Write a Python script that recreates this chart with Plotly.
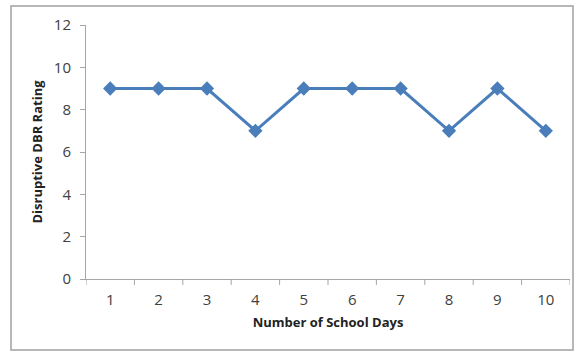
import plotly.graph_objects as go

days = [1, 2, 3, 4, 5, 6, 7, 8, 9, 10]
ratings = [9, 9, 9, 7, 9, 9, 9, 7, 9, 7]
y_ticks = [0, 2, 4, 6, 8, 10, 12]

W, H = 574, 352
L, R, T, B = 86, 4, 25, 73
pw, ph = W - L - R, H - T - B

fig = go.Figure(go.Scatter(
    x=days, y=ratings, mode="lines+markers",
    line=dict(color="#4a7ebb", width=3),
    marker=dict(symbol="diamond", size=11, color="#4a7ebb"),
    showlegend=False,
))

font = dict(family="Open Sans, Liberation Sans, sans-serif", size=15, color="#404040")

fig.update_layout(
    width=W, height=H,
    margin=dict(l=L, r=R, t=T, b=B),
    paper_bgcolor="white", plot_bgcolor="white",
    font=font,
    xaxis=dict(
        range=[0.5, 10.5], tickmode="array", tickvals=days,
        ticktext=[str(d) for d in days],
        showgrid=False, zeroline=False, showline=True,
        linecolor="#a6a6a6", linewidth=1, ticks="",
        ticklabelstandoff=7,
        title=dict(text="<b>Number of School Days</b>", font=dict(size=13, color="#222"), standoff=9),
        fixedrange=True,
    ),
    yaxis=dict(
        range=[0, 12], tickmode="array", tickvals=y_ticks,
        showgrid=False, zeroline=False, showline=True,
        linecolor="#a6a6a6", linewidth=1, ticks="outside",
        ticklen=5, tickcolor="#a6a6a6", ticklabelstandoff=6,
        title=dict(text="<b>Disruptive DBR Rating</b>", font=dict(size=13, color="#222"), standoff=8),
        fixedrange=True,
    ),
)

# category separator tick marks on the x axis
shapes = []
for k in range(11):
    xv = 0.5 + k
    shapes.append(dict(type="line", xref="x", yref="paper", x0=xv, x1=xv,
                       y0=-6 / ph, y1=0, line=dict(color="#a6a6a6", width=1)))

# outer chart frame
shapes.append(dict(type="rect", xref="paper", yref="paper",
                   x0=(11 - L) / pw, x1=(573 - L) / pw,
                   y0=(T + ph - 350) / ph, y1=(T + ph - 6) / ph,
                   line=dict(color="#a0a0a0", width=1.5), layer="below"))
fig.update_layout(shapes=shapes)

fig.write_html("out.html")
